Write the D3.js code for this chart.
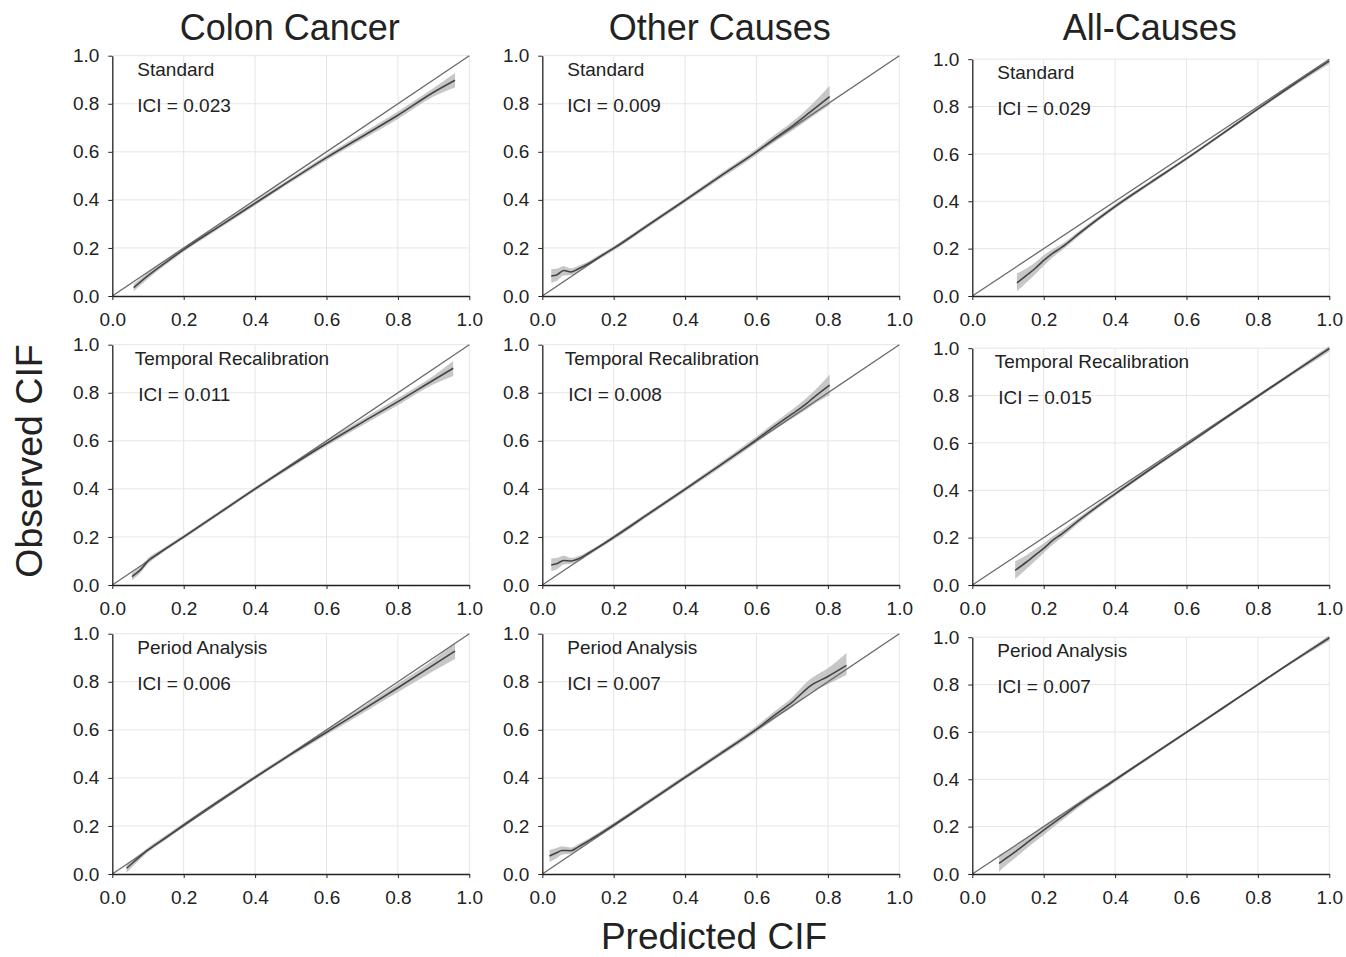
<!DOCTYPE html>
<html>
<head>
<meta charset="utf-8">
<script src="https://cdn.jsdelivr.net/npm/d3@7"></script>
<style>
  body { margin: 0; background: #fff; }
  text { font-family: "Liberation Sans", Arial, sans-serif; fill: #222; }
</style>
</head>
<body>
<div id="chart"></div>
<script>
const W = 1346, H = 957;

const columnTitles = ["Colon Cancer", "Other Causes", "All-Causes"];
const methods = ["Standard", "Temporal Recalibration", "Period Analysis"];
const iciValues = [
    ["0.023", "0.009", "0.029"],
    ["0.011", "0.008", "0.015"],
    ["0.006", "0.007", "0.007"]
];
const tickValues = [0, 0.2, 0.4, 0.6, 0.8, 1.0];

// each row: [predicted, observed, lower, upper]
const colonStandard = [
    [0.06, 0.035, 0.02, 0.05], [0.1, 0.085, 0.072, 0.098], [0.15, 0.14, 0.13, 0.15],
    [0.2, 0.193, 0.184, 0.202], [0.3, 0.29, 0.281, 0.299], [0.4, 0.386, 0.377, 0.395],
    [0.5, 0.482, 0.473, 0.491], [0.6, 0.576, 0.565, 0.587], [0.7, 0.664, 0.651, 0.677],
    [0.8, 0.752, 0.737, 0.768], [0.9, 0.848, 0.83, 0.866], [0.96, 0.898, 0.868, 0.928]
];
const otherStandard = [
    [0.025, 0.083, 0.055, 0.112], [0.04, 0.087, 0.062, 0.113], [0.06, 0.106, 0.085, 0.125],
    [0.08, 0.1, 0.087, 0.115], [0.1, 0.112, 0.1, 0.125], [0.13, 0.135, 0.126, 0.145],
    [0.16, 0.163, 0.154, 0.172], [0.2, 0.198, 0.189, 0.207], [0.3, 0.298, 0.289, 0.307],
    [0.4, 0.398, 0.389, 0.407], [0.5, 0.5, 0.489, 0.511], [0.6, 0.6, 0.587, 0.613],
    [0.65, 0.655, 0.64, 0.67], [0.7, 0.707, 0.688, 0.725], [0.75, 0.765, 0.74, 0.79],
    [0.805, 0.83, 0.795, 0.875]
];
const allStandard = [
    [0.125, 0.055, 0.02, 0.095], [0.15, 0.085, 0.055, 0.115], [0.175, 0.115, 0.09, 0.14],
    [0.2, 0.15, 0.128, 0.172], [0.225, 0.18, 0.163, 0.197], [0.25, 0.205, 0.191, 0.219],
    [0.3, 0.265, 0.254, 0.276], [0.4, 0.378, 0.369, 0.387], [0.5, 0.48, 0.472, 0.488],
    [0.6, 0.58, 0.573, 0.587], [0.7, 0.685, 0.678, 0.692], [0.8, 0.79, 0.783, 0.797],
    [0.9, 0.893, 0.885, 0.901], [1.0, 0.992, 0.98, 1.0]
];
const colonTemporal = [
    [0.055, 0.035, 0.02, 0.05], [0.08, 0.065, 0.052, 0.078], [0.1, 0.1, 0.088, 0.112],
    [0.13, 0.132, 0.123, 0.141], [0.2, 0.2, 0.192, 0.208], [0.3, 0.3, 0.292, 0.308],
    [0.4, 0.4, 0.392, 0.408], [0.5, 0.496, 0.487, 0.505], [0.6, 0.589, 0.578, 0.6],
    [0.7, 0.677, 0.664, 0.69], [0.8, 0.763, 0.748, 0.778], [0.9, 0.853, 0.835, 0.871],
    [0.955, 0.902, 0.87, 0.932]
];
const otherTemporal = [
    [0.025, 0.083, 0.058, 0.11], [0.04, 0.088, 0.065, 0.112], [0.06, 0.102, 0.085, 0.122],
    [0.08, 0.1, 0.088, 0.113], [0.1, 0.108, 0.097, 0.12], [0.13, 0.133, 0.124, 0.142],
    [0.16, 0.16, 0.152, 0.168], [0.2, 0.198, 0.189, 0.207], [0.3, 0.298, 0.289, 0.307],
    [0.4, 0.398, 0.389, 0.407], [0.5, 0.5, 0.489, 0.511], [0.6, 0.605, 0.592, 0.618],
    [0.65, 0.66, 0.645, 0.675], [0.7, 0.712, 0.693, 0.73], [0.74, 0.755, 0.73, 0.778],
    [0.76, 0.78, 0.752, 0.805], [0.805, 0.832, 0.79, 0.876]
];
const allTemporal = [
    [0.12, 0.062, 0.025, 0.1], [0.15, 0.095, 0.065, 0.125], [0.175, 0.125, 0.1, 0.15],
    [0.2, 0.155, 0.135, 0.175], [0.225, 0.188, 0.17, 0.205], [0.25, 0.215, 0.2, 0.23],
    [0.3, 0.275, 0.263, 0.287], [0.4, 0.385, 0.376, 0.394], [0.5, 0.49, 0.482, 0.498],
    [0.6, 0.592, 0.585, 0.599], [0.7, 0.695, 0.688, 0.702], [0.8, 0.797, 0.79, 0.804],
    [0.9, 0.898, 0.89, 0.906], [1.0, 0.998, 0.985, 1.01]
];
const colonPeriod = [
    [0.04, 0.024, 0.005, 0.04], [0.06, 0.05, 0.035, 0.063], [0.1, 0.1, 0.09, 0.11],
    [0.15, 0.152, 0.143, 0.161], [0.2, 0.204, 0.196, 0.212], [0.3, 0.305, 0.297, 0.313],
    [0.4, 0.403, 0.395, 0.411], [0.5, 0.498, 0.489, 0.507], [0.6, 0.59, 0.579, 0.601],
    [0.7, 0.682, 0.668, 0.695], [0.8, 0.775, 0.756, 0.793], [0.9, 0.87, 0.845, 0.892],
    [0.96, 0.928, 0.895, 0.962]
];
const otherPeriod = [
    [0.02, 0.075, 0.05, 0.1], [0.04, 0.088, 0.066, 0.108], [0.055, 0.098, 0.08, 0.115],
    [0.08, 0.097, 0.085, 0.11], [0.1, 0.112, 0.1, 0.124], [0.13, 0.138, 0.128, 0.148],
    [0.16, 0.166, 0.157, 0.175], [0.2, 0.204, 0.195, 0.213], [0.3, 0.303, 0.294, 0.312],
    [0.4, 0.403, 0.394, 0.412], [0.5, 0.502, 0.492, 0.512], [0.6, 0.603, 0.59, 0.616],
    [0.65, 0.66, 0.644, 0.676], [0.7, 0.715, 0.694, 0.735], [0.75, 0.782, 0.755, 0.81],
    [0.8, 0.822, 0.79, 0.856], [0.852, 0.868, 0.828, 0.92]
];
const allPeriod = [
    [0.075, 0.045, 0.01, 0.08], [0.1, 0.072, 0.043, 0.1], [0.13, 0.105, 0.08, 0.128],
    [0.16, 0.14, 0.118, 0.16], [0.2, 0.185, 0.165, 0.205], [0.25, 0.24, 0.225, 0.255],
    [0.3, 0.295, 0.283, 0.307], [0.4, 0.397, 0.389, 0.405], [0.5, 0.498, 0.491, 0.505],
    [0.6, 0.598, 0.592, 0.604], [0.7, 0.699, 0.693, 0.705], [0.8, 0.8, 0.794, 0.806],
    [0.9, 0.9, 0.893, 0.907], [1.0, 0.996, 0.985, 1.008]
];

const panelData = [
    [colonStandard, otherStandard, allStandard],
    [colonTemporal, otherTemporal, allTemporal],
    [colonPeriod, otherPeriod, allPeriod]
];

// layout
const colX = [112.3, 542.3, 972.3];
const panelW = 357;
const rowBottom = [296, 585, 874];
const panelH = 240.3;
const colTopShift = [0, 0, 3.5];
const labelDx = [25, 22.5, 25];
const iciDx = [25, 26, 25];

const svg = d3.select('#chart').append('svg')
    .attr('width', W)
    .attr('height', H);

svg.append('rect').attr('width', W).attr('height', H).attr('fill', '#fff');

columnTitles.forEach((t, c) => {
    svg.append('text')
        .attr('x', colX[c] + panelW / 2 - 1)
        .attr('y', 40)
        .attr('text-anchor', 'middle')
        .style('font-size', '36px')
        .text(t);
});

svg.append('text')
    .attr('transform', 'translate(42, 461) rotate(-90)')
    .attr('text-anchor', 'middle')
    .style('font-size', '37.5px')
    .text('Observed CIF');

svg.append('text')
    .attr('x', 714)
    .attr('y', 949)
    .attr('text-anchor', 'middle')
    .style('font-size', '37px')
    .text('Predicted CIF');

function drawPanel(r, c) {
    const data = panelData[r][c];
    const x0 = colX[c];
    const yBottom = rowBottom[r];
    const yTop = yBottom - panelH + colTopShift[c];

    const g = svg.append('g');

    const xScale = d3.scaleLinear().domain([0, 1]).range([x0, x0 + panelW]);
    const yScale = d3.scaleLinear().domain([0, 1]).range([yBottom, yTop]);

    // grid
    g.selectAll('.vgrid')
        .data(tickValues.slice(1))
        .enter()
        .append('line')
        .attr('x1', d => xScale(d)).attr('x2', d => xScale(d))
        .attr('y1', yScale(0)).attr('y2', yScale(1))
        .attr('stroke', '#e6e6e6')
        .attr('stroke-width', 1);

    g.selectAll('.hgrid')
        .data(tickValues.slice(1))
        .enter()
        .append('line')
        .attr('x1', xScale(0)).attr('x2', xScale(1))
        .attr('y1', d => yScale(d)).attr('y2', d => yScale(d))
        .attr('stroke', '#e6e6e6')
        .attr('stroke-width', 1);

    // confidence band
    const area = d3.area()
        .x(d => xScale(d[0]))
        .y0(d => yScale(d[2]))
        .y1(d => yScale(d[3]))
        .curve(d3.curveMonotoneX);

    g.append('path')
        .datum(data)
        .attr('fill', '#bdbdbd')
        .attr('fill-opacity', 0.85)
        .attr('d', area);

    // reference diagonal
    g.append('line')
        .attr('x1', xScale(0)).attr('y1', yScale(0))
        .attr('x2', xScale(1)).attr('y2', yScale(1))
        .attr('stroke', '#6a6a6a')
        .attr('stroke-width', 1.3);

    const line = d3.line()
        .x(d => xScale(d[0]))
        .y(d => yScale(d[1]))
        .curve(d3.curveMonotoneX);

    g.append('path')
        .datum(data)
        .attr('fill', 'none')
        .attr('stroke', '#444')
        .attr('stroke-width', 1.6)
        .attr('d', line);

    // axes
    const fmt = d3.format('.1f');
    const xAxis = g.append('g')
        .attr('transform', `translate(0, ${yBottom})`)
        .call(d3.axisBottom(xScale).tickValues(tickValues).tickFormat(fmt).tickSize(4).tickSizeOuter(0));
    xAxis.selectAll('text')
        .attr('y', 17)
        .style('font-size', '19px')
        .style('fill', '#222');

    const yAxis = g.append('g')
        .attr('transform', `translate(${x0}, 0)`)
        .call(d3.axisLeft(yScale).tickValues(tickValues).tickFormat(fmt).tickSize(4).tickSizeOuter(0));
    yAxis.selectAll('text')
        .attr('x', -13)
        .style('font-size', '19px')
        .style('fill', '#222');

    [xAxis, yAxis].forEach(a => {
        a.select('.domain').attr('stroke', '#222').attr('stroke-width', 1.3);
        a.selectAll('.tick line').attr('stroke', '#222');
    });

    // labels
    g.append('text')
        .attr('x', x0 + labelDx[r])
        .attr('y', yTop + 20)
        .style('font-size', '19px')
        .text(methods[r]);

    g.append('text')
        .attr('x', x0 + iciDx[r])
        .attr('y', yTop + 56)
        .style('font-size', '19px')
        .text('ICI = ' + iciValues[r][c]);
}

for (let r = 0; r < 3; r++) {
    for (let c = 0; c < 3; c++) {
        drawPanel(r, c);
    }
}
</script>
</body>
</html>
